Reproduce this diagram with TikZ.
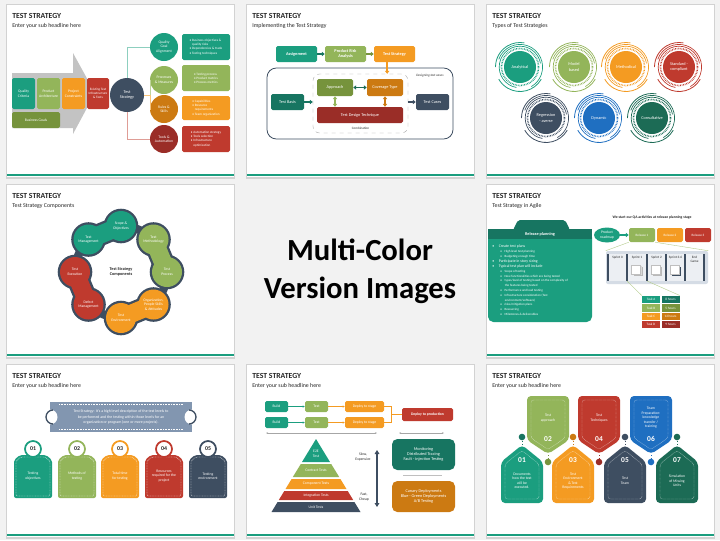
\documentclass[tikz,border=0pt]{standalone}
\usepackage{fontspec}
\setmainfont{Carlito}
\usetikzlibrary{arrows.meta,shapes.geometric}

\definecolor{cbg}{HTML}{F2F2F2}
\definecolor{cshadow}{HTML}{D2D2D2}
\definecolor{cteal}{HTML}{1B9E7F}
\definecolor{cdkteal}{HTML}{177561}
\definecolor{cgreen}{HTML}{93B55A}
\definecolor{colive}{HTML}{76933C}
\definecolor{corange}{HTML}{F49B22}
\definecolor{cbrown}{HTML}{CC7A12}
\definecolor{cred}{HTML}{BF3A2E}
\definecolor{cdkred}{HTML}{9A2D27}
\definecolor{cslate}{HTML}{3E4E61}
\definecolor{cblue}{HTML}{1F6FC1}
\definecolor{cdkgreen}{HTML}{1C6B55}
\definecolor{cgrayblue}{HTML}{8296B0}
\definecolor{carrow}{HTML}{C3C3C3}
\definecolor{cpanel}{HTML}{D5DCE5}
\definecolor{ctext}{HTML}{262626}

\newcommand\tsA{\fontsize{2.5}{3.1}\selectfont}
\newcommand\tsB{\fontsize{2.8}{3.4}\selectfont}
\newcommand\tsC{\fontsize{3.2}{3.9}\selectfont}
\newcommand\tsD{\fontsize{4.4}{5.2}\selectfont}
\newcommand\tsE{\fontsize{5.6}{6.4}\selectfont}
\newcommand\tsTitle{\fontsize{5.8}{7}\selectfont\bfseries}
\newcommand\tsSub{\fontsize{4.4}{5.2}\selectfont}
\newcommand\tsBig{\fontsize{23}{28.5}\selectfont\bfseries}

\begin{document}
\begin{tikzpicture}[x=0.75pt,y=0.75pt,yscale=-1,xscale=1,
  wh/.style 2 args={minimum width=#1*0.75pt,minimum height=#2*0.75pt},
  rr/.style={minimum size=#1*1.5pt},
  tbox/.style={rectangle,rounded corners=1.2pt,inner sep=0pt,align=center,text=white,font=\tsB},
  circ/.style={circle,inner sep=0pt,align=center,text=white,font=\tsB},
  bl/.style={rectangle,rounded corners=1.2pt,inner sep=0pt,align=left,text=white,font=\tsA},
  ttl/.style={anchor=base west,inner sep=0pt,text=ctext,font=\tsTitle},
  subt/.style={anchor=base west,inner sep=0pt,text=ctext,font=\tsSub},
  conn/.style={line width=0.3pt},
  barrow/.style={line width=1.1pt,-{Triangle[length=2.2pt,width=3.2pt]}},
  dbarrow/.style={line width=1.1pt,{Triangle[length=2.2pt,width=3.2pt]}-{Triangle[length=2.2pt,width=3.2pt]}},
  thinarr/.style={line width=0.3pt,-{Stealth[length=1.5pt,width=1.5pt]}},
  dim/.style={gray!70,line width=0.25pt,{Stealth[length=1.5pt]}-{Stealth[length=1.5pt]}},
  dark/.style={text=ctext,align=center,inner sep=0pt}]
\useasboundingbox (0,0) rectangle (720,540);
\fill[cbg] (0,0) rectangle (720,540);

% slide frames
\foreach \cx/\cy/\subtxt in {0/0/Enter your sub headline here,240/0/Implementing the Test Strategy,480/0/Types of Test Strategies,0/180/Test Strategy Components,480/180/Test Strategy in Agile,0/360/Enter your sub headline here,240/360/Enter your sub headline here,480/360/Enter your sub headline here}{
  \begin{scope}[shift={(\cx,\cy)}]
    \fill[cshadow] (5.5,3.5) rectangle (235,178.5);
    \fill[white] (7,5) rectangle (233.5,177);
    \fill[cteal] (7,174) rectangle (233.5,176);
    \node[ttl] (ttl-\cx-\cy) at (12,18.5) {TEST STRATEGY};
    \node[subt] (sub-\cx-\cy) at (12,27.5) {\subtxt};
  \end{scope}
}

% slide 1
\begin{scope}[shift={(0,0)}]
\fill[carrow] (12,73) -- (73,73) -- (73,53) -- (95,93) -- (73,134) -- (73,128) -- (12,128) -- cycle;
\node[tbox,fill=cteal,wh={23}{31}] (qc) at (23.5,93.5) {Quality\\Criteria};
\node[tbox,fill=cgreen,wh={23}{31}] (pa) at (48.5,93.5) {Product\\Architecture};
\node[tbox,fill=corange,wh={23}{31}] (pc) at (73.5,93.5) {Project\\Constraints};
\node[tbox,fill=cred,wh={22}{31},font=\tsA] (ei) at (98,93.5) {Existing Test\\Infrastructure\\\& Tests};
\node[tbox,fill=colive,wh={48}{16}] (bg) at (36,120) {Business Goals};
\node[circ,fill=cslate,rr=17,font=\tsC] (ts) at (127,95) {Test\\Strategy};
\node[circ,fill=cteal,rr=14] (qg) at (164,47) {Quality\\Goal\\Alignment};
\node[circ,fill=cgreen,rr=14] (pm) at (164,80) {Processes\\\& Measures};
\node[circ,fill=cbrown,rr=14] (rs) at (164,109) {Rules \&\\Skills};
\node[circ,fill=cdkred,rr=14] (ta) at (164,139) {Tools \&\\Automation};
\draw[conn,cteal!50] (ts.north) |- (qg.west);
\draw[conn,cgreen!60] (ts.east) -- ++(6,0) |- (pm.west);
\draw[conn,corange!60] (ts.east) -- ++(6,0) |- (rs.west);
\draw[conn,cred!50] (ts.south) |- (ta.west);
\node[bl,fill=cteal,wh={48}{26}] (qgt) at (206,47) {\textbullet~Business objectives \&\\\phantom{\textbullet~}quality risks\\\textbullet~Dependencies \& trade\\\textbullet~Testing techniques};
\node[bl,fill=cgreen,wh={48}{26}] (pmt) at (206,78) {\textbullet~Testing process\\\textbullet~Product metrics\\\textbullet~Process metrics};
\node[bl,fill=corange,wh={48}{24}] (rst) at (206,108) {\textbullet~Capabilities\\\textbullet~Resource\\\phantom{\textbullet~}requirements\\\textbullet~Team organization};
\node[bl,fill=cred,wh={48}{26}] (tat) at (206,139) {\textbullet~Automation strategy\\\textbullet~Tools selection\\\textbullet~Infrastructure\\\phantom{\textbullet~}optimization};
\end{scope}

% slide 2
\begin{scope}[shift={(240,0)}]
\node[tbox,fill=cteal,wh={41}{16},font=\tsC\bfseries] (asg) at (56.5,54) {Assignment};
\node[tbox,fill=cgreen,wh={41}{16},font=\tsC\bfseries] (risk) at (105.5,54) {Product Risk\\Analysis};
\node[tbox,fill=corange,wh={41}{16},font=\tsC\bfseries] (strat) at (154.5,54) {Test Strategy};
\node[draw=cslate,line width=0.6pt,rounded corners=7pt,wh={186}{71},inner sep=0pt] (outer) at (120,103.5) {};
\node[draw=gray!70,dashed,line width=0.3pt,rounded corners=5pt,wh={95}{59},inner sep=0pt] (inner) at (120.5,103.5) {};
\node[dark,font=\tsA\itshape] (dtc) at (190,75.5) {Designing test cases};
\node[dark,font=\tsA] (comb) at (120.5,128.5) {Combination};
\node[tbox,fill=colive,wh={36}{17},font=\tsC] (appr) at (95,87.5) {Approach};
\node[tbox,fill=cbrown,wh={36}{17},font=\tsC] (cov) at (145,87.5) {Coverage Type};
\node[tbox,fill=cdkred,wh={86}{16},font=\tsC] (tdt) at (120,115) {Test Design Technique};
\node[tbox,fill=cdkteal,wh={33}{16},font=\tsC] (basis) at (47.5,102) {Test Basis};
\node[tbox,fill=cslate,wh={33}{16},font=\tsC] (cases) at (192.5,102) {Test Cases};
\draw[barrow,cdkteal] (asg) -- (risk);
\draw[barrow,colive] (risk) -- (strat);
\draw[barrow,corange] ([xshift=-5.5pt]strat.south) -- ([xshift=-5.5pt]strat.south |- inner.north);
\draw[dbarrow,cdkgreen] (appr) -- (cov);
\draw[dbarrow,cgreen] (appr) -- (appr |- tdt.north);
\draw[dbarrow,cbrown] (cov) -- (cov |- tdt.north);
\draw[barrow,cdkteal] (basis) -- (basis -| inner.west);
\draw[barrow,cslate] (cases -| inner.east) -- (cases);
\end{scope}

% slide 3
\begin{scope}[shift={(480,0)}]
\foreach \x/\y/\c/\n/\t in {40/67/cteal/an/Analytical,94/67/cgreen/mb/{Model\\based},146/67/corange/me/Methodical,199/67/cred/sc/{Standard -\\compliant},66/118/cslate/ra/{Regression\\- averse},119/118/cblue/dy/Dynamic,172/118/cdkgreen/co/Consultative}{
  \draw[\c,line width=1.2pt,dash pattern=on 0.5pt off 0.7pt] (\x,\y) circle (18.5);
  \draw[\c,line width=0.5pt] (\x,\y) ++(100:20.8) arc[start angle=100,end angle=350,radius=20.8];
  \draw[\c,line width=0.5pt] (\x,\y) ++(200:22.6) arc[start angle=200,end angle=420,radius=22.6];
  \draw[\c,line width=0.6pt] (\x,\y) ++(30:24.5) arc[start angle=30,end angle=150,radius=24.5];
  \draw[\c,line width=0.6pt] (\x,\y) ++(180:24.5) arc[start angle=180,end angle=280,radius=24.5];
  \node[circ,fill=\c,rr=16,font=\tsC] (ty-\n) at (\x,\y) {\t};
}
\end{scope}

% slide 4
\begin{scope}[shift={(0,180)}]
\coordinate (so) at (121,46);
\coordinate (tm) at (153.5,59.5);
\coordinate (tp) at (167,92);
\coordinate (op) at (153.5,124.5);
\coordinate (te) at (121,138);
\coordinate (dm) at (88.5,124.5);
\coordinate (tx) at (75,92);
\coordinate (mg) at (88.5,59.5);
\draw[cslate,line width=6pt] (121,92) circle (46);
\foreach \p in {so,tm,tp,op,te,dm,tx,mg}
  \fill[cslate] (\p) circle (17.3);
\foreach \p/\q in {so/mg,tm/tp,op/te,dm/tx}
  \draw[cslate,line width=17pt] (\p) -- (\q);
\foreach \p/\q/\c in {so/mg/cteal,tm/tp/cgreen,op/te/corange,dm/tx/cred}
  \draw[\c,line width=13.5pt] (\p) -- (\q);
\foreach \p/\c/\t in {so/cteal/{Scope \&\\Objectives},tm/cgreen/{Test\\Methodology},tp/cgreen/{Test\\Process},op/corange/{Organization,\\People Skills\\\& Attitudes},te/corange/{Test\\Environment},dm/cred/{Defect\\Management},tx/cred/{Test\\Execution},mg/cteal/{Test\\Management}}
  \node[circ,fill=\c,rr=15] (cp-\p) at (\p) {\t};
\node[dark,font=\tsC\bfseries] (tsc) at (121,92) {Test Strategy\\Components};
\end{scope}

% slide 5
\begin{scope}[shift={(480,180)}]
\fill[cdkteal,rounded corners=1.5pt] (33,50) -- (38,40) -- (85,40) -- (90,50) -- cycle;
\fill[cteal,rounded corners=4pt] (8,52) -- (8,142) -- (112,142) -- (112,52) -- cycle;
\fill[cdkteal] (8,49) rectangle (112,59);
\node[font=\tsC\bfseries,text=white] (rp) at (60,54) {Release planning};
\node[anchor=north west,align=left,text=white,inner sep=0pt,font=\fontsize{2.4}{3.6}\selectfont] (rpl) at (12,64.5) {%
{\fontsize{2.9}{3.6}\selectfont\textbullet\hspace{3.5pt}Create test plans}\\
\hspace*{6pt}o\hspace{2pt}High level test planning\\
\hspace*{6pt}o\hspace{2pt}Budgeting enough time\\[0.6pt]
{\fontsize{2.9}{3.6}\selectfont\textbullet\hspace{3.5pt}Participate in story sizing}\\
{\fontsize{2.9}{3.6}\selectfont\textbullet\hspace{3.5pt}Typical test plan will include}\\
\hspace*{6pt}o\hspace{2pt}Scope of testing\\
\hspace*{6pt}o\hspace{2pt}New functionalities which are being tested\\
\hspace*{6pt}o\hspace{2pt}types/level of testing based on the complexity of\\
\hspace*{9.5pt}the features being tested\\
\hspace*{6pt}o\hspace{2pt}Performance and load testing\\
\hspace*{6pt}o\hspace{2pt}Infrastructure consideration (Test\\
\hspace*{9.5pt}environment/software)\\
\hspace*{6pt}o\hspace{2pt}risks/mitigation plans\\
\hspace*{6pt}o\hspace{2pt}Resourcing\\
\hspace*{6pt}o\hspace{2pt}Milestones \& deliverables};
\node[dark,font=\fontsize{2.8}{3.4}\selectfont\bfseries] (qa) at (172,37) {We start our QA activities at release planning stage};
\node[ellipse,fill=cteal,wh={26}{15},inner sep=0pt,align=center,text=white,font=\tsB] (road) at (127,55) {Product\\roadmap};
\node[tbox,fill=cgreen,wh={26}{14},font=\tsA] (rel1) at (162,55) {Release 1};
\node[tbox,fill=corange,wh={26}{14},font=\tsA] (rel2) at (190,55) {Release 2};
\node[tbox,fill=cred,wh={26}{14},font=\tsA] (rel3) at (218,55) {Release 3};
\draw[barrow,cteal] (road) -- (rel1);
\node[fill=cpanel,rounded corners=1.5pt,wh={102}{33},inner sep=0pt] (sp) at (177,87.5) {};
\draw[conn,cgreen!70] (rel1.south west) -- (sp.north west);
\draw[conn,cgreen!70] (rel1.south east) -- (sp.north east);
\foreach \a/\b in {128/147,147/167,167/186,186/205,205/224}
  \fill[cpanel!45!white] (\a,74) rectangle (\b,101);
\foreach \a in {128,147,167,186,205,224}
  \fill[cslate] (\a-0.7,74) rectangle (\a+0.7,101);
\foreach \x/\n/\t in {137.5/s0/Sprint 0,157/s1/Sprint 1,176.5/s2/Sprint 2,195.5/s3/Sprint 3-6}
  \node[dark,font=\tsA] (sp-\n) at (\x,77.5) {\t};
\node[dark,font=\tsA] (sp-eg) at (214.5,79) {End\\Game};
\foreach \x/\k in {157/gray!55,176.5/gray!55,195.5/cslate}{
  \fill[\k] (\x-3.5,87) rectangle ++(9,9);
  \fill[gray!30] (\x-4.5,86) rectangle ++(9,9);
  \filldraw[fill=white,draw=gray!50,line width=0.2pt] (\x-5.5,85) rectangle ++(9,9);
}
\foreach \y/\a/\b/\t/\h in {119.5/cteal/cdkteal/A/8,128/cgreen/colive/B/5,136.5/corange/cbrown/C/12,144.5/cred/cdkred/D/9}{
  \node[tbox,fill=\a,wh={18}{7.5},font=\tsA,rounded corners=0pt] (tk\t) at (171,\y) {Task \t};
  \node[tbox,fill=\b,wh={18}{7.5},font=\tsA,rounded corners=0pt] (hr\t) at (190.5,\y) {\h{} hours};
}
\coordinate (s1l) at (147,101);
\coordinate (s1r) at (167,101);
\draw[conn,cgreen!70] (s1l) -- (tkA.north west);
\draw[conn,cgreen!70] (s1r) -- (hrA.north east);
\end{scope}

% slide 6
\begin{scope}[shift={(0,360)}]
\fill[cgrayblue] (50,42) rectangle (192,72);
\fill[white] (50,57) circle (7.5);
\fill[white] (192,57) circle (7.5);
\draw[white,line width=0.25pt,dash pattern=on 0.6pt off 0.6pt] (59,44.5) -- (183,44.5);
\draw[white,line width=0.25pt,dash pattern=on 0.6pt off 0.6pt] (59,69.5) -- (183,69.5);
\draw[cslate,line width=1pt] (53,57) ++(90:7) arc[start angle=90,end angle=270,radius=7];
\draw[cslate,line width=1pt] (189,57) ++(-90:7) arc[start angle=-90,end angle=90,radius=7];
\node[text=white,align=center,font=\fontsize{2.9}{4.1}\selectfont] (def) at (121,57) {Test Strategy: It's a high level description of the test levels to\\be performed and the testing within those levels for an\\organization or program (one or more projects).};
\foreach \x/\c/\n/\t in {33/cteal/01/{Testing\\objectives},77/cgreen/02/{Methods of\\testing},120/corange/03/{Total time\\for testing},164/cred/04/{Resources\\required for the\\project},208/cslate/05/{Testing\\environment}}{
  \fill[\c,rounded corners=1.5pt] (\x-19,100) -- (\x-13,95) -- (\x+13,95) -- (\x+19,100) -- (\x+19,138) -- (\x-19,138) -- cycle;
  \draw[white,line width=0.25pt,dash pattern=on 0.6pt off 0.6pt,rounded corners=1pt] (\x-17,101) -- (\x-12,97) -- (\x+12,97) -- (\x+17,101) -- (\x+17,136) -- (\x-17,136) -- cycle;
  \node[circle,draw=\c,line width=1.3pt,fill=white,rr=8,inner sep=0pt,text=ctext,font=\tsD\bfseries] (nm-\n) at (\x,89) {\n};
  \node[text=white,align=center,inner sep=0pt,font=\tsB] (tg-\n) at (\x,116) {\t};
}
\end{scope}

% slide 7
\begin{scope}[shift={(240,360)}]
\node[tbox,fill=cteal,wh={23}{11}] (b1) at (36.5,46.5) {Build};
\node[tbox,fill=cgreen,wh={23}{11}] (t1) at (76.5,46.5) {Test};
\node[tbox,fill=corange,wh={39}{11}] (d1) at (124.5,46.5) {Deploy to stage};
\node[tbox,fill=cteal,wh={23}{11}] (b2) at (36.5,62.5) {Build};
\node[tbox,fill=cgreen,wh={23}{11}] (t2) at (76.5,62.5) {Test};
\node[tbox,fill=corange,wh={39}{11}] (d2) at (124.5,62.5) {Deploy to stage};
\node[tbox,fill=cred,wh={51}{13},font=\tsB\bfseries] (prod) at (187.5,54.5) {Deploy to production};
\draw[thinarr,cteal] (b1) -- (t1);
\draw[thinarr,cteal] (b2) -- (t2);
\draw[thinarr,corange] (t1) -- (d1);
\draw[thinarr,corange] (t2) -- (d2);
\draw[conn,corange] (d1.east) -- ++(7,0) |- (prod.west);
\draw[conn,corange] (d2.east) -- ++(7,0) |- (prod.west);
\coordinate (ml) at (26,73);
\coordinate (mr) at (137,73);
\coordinate (nl) at (159,73);
\coordinate (nr) at (204,73);
\draw[dim] (ml) -- (mr);
\draw[dim] (nl) -- (nr);
\fill[cteal] (76,79) -- (90,102) -- (62,102) -- cycle;
\fill[cgreen] (60.8,104) -- (91.2,104) -- (99.2,117) -- (52.8,117) -- cycle;
\fill[corange] (51.6,119) -- (100.4,119) -- (106.5,129) -- (45.5,129) -- cycle;
\fill[cred] (44.3,131) -- (107.7,131) -- (113.2,140) -- (38.8,140) -- cycle;
\fill[cslate] (37.6,142) -- (114.4,142) -- (120.5,152) -- (31.5,152) -- cycle;
\node[text=white,align=center,inner sep=0pt,font=\tsB] (e2e) at (76,94) {E2E\\Test};
\node[text=white,inner sep=0pt,font=\tsB] (ctr) at (76,110.5) {Contract Tests};
\node[text=white,inner sep=0pt,font=\tsB] (cmp) at (76,124) {Component Tests};
\node[text=white,inner sep=0pt,font=\tsB] (itg) at (76,135.5) {Integration Tests};
\node[text=white,inner sep=0pt,font=\tsB] (unt) at (76,147) {Unit Tests};
\coordinate (slow) at (137,90);
\coordinate (fast) at (137,147);
\draw[cslate,line width=1pt,{Triangle[length=3pt,width=3.5pt]}-{Triangle[length=3pt,width=3.5pt]}] (slow) -- (fast);
\node[dark,font=\tsB] (slw) at (123,97) {Slow,\\Expensive};
\node[dark,font=\tsB] (fst) at (124,137) {Fast,\\Cheap};
\node[tbox,fill=cdkteal,wh={63}{31},rounded corners=4pt,font=\tsC] (mon) at (183.5,94.5) {Monitoring\\Distributed Tracing\\Fault - injection Testing};
\coordinate (sl) at (163,115);
\coordinate (sr) at (202,115);
\draw[gray!50,line width=0.5pt] (sl) -- (sr);
\node[tbox,fill=cbrown,wh={63}{31},rounded corners=4pt,font=\tsC] (can) at (183.5,136.5) {Canary Deployments\\Blue - Green Deployments\\A/B Testing};
\end{scope}

% slide 8
\begin{scope}[shift={(480,360)}]
\foreach \x/\c/\d/\n/\t in {68/cgreen/colive/02/{Test\\approach},119/cred/cdkred/04/{Test\\Techniques},171/cblue/cblue/06/{Team\\Preparation:\\knowledge\\transfer /\\training}}{
  \fill[\c,rounded corners=3pt] (\x-21,80) -- (\x-21,36) -- (\x+21,36) -- (\x+21,80) -- (\x,94) -- cycle;
  \draw[white,opacity=0.6,line width=0.3pt,dash pattern=on 0.5pt off 0.5pt,rounded corners=2pt] (\x-17,78) -- (\x-17,40) -- (\x+17,40) -- (\x+17,78) -- (\x,89.5) -- cycle;
  \node[circle,fill=\d,rr=3.3,inner sep=0pt] (pin-\n) at (\x,102) {};
  \draw[\d,line width=0.4pt,dotted] (pin-\n) -- (\x,94);
  \node[text=white,inner sep=0pt,font=\tsE\bfseries] (num-\n) at (\x,79) {\n};
  \node[text=white,align=center,inner sep=0pt,font=\tsB] (txt-\n) at (\x,58) {\t};
}
\foreach \x/\c/\d/\n/\t in {42/cteal/cdkteal/01/{Documents\\how the test\\will be\\executed.},93/corange/cbrown/03/{Test\\Environment\\\& Test\\Requirements},145/cslate/cslate/05/{Test\\Team},197/cdkgreen/cdkgreen/07/{Simulation\\of Missing\\Units}}{
  \fill[\c,rounded corners=3pt] (\x,85) -- (\x+21,102) -- (\x+21,143) -- (\x-21,143) -- (\x-21,102) -- cycle;
  \draw[white,opacity=0.6,line width=0.3pt,dash pattern=on 0.5pt off 0.5pt,rounded corners=2pt] (\x,90.5) -- (\x+17,104) -- (\x+17,139) -- (\x-17,139) -- (\x-17,104) -- cycle;
  \node[circle,fill=\d,rr=3.3,inner sep=0pt] (pin-\n) at (\x,77) {};
  \draw[\d,line width=0.4pt,dotted] (pin-\n) -- (\x,85);
  \node[text=white,inner sep=0pt,font=\tsE\bfseries] (num-\n) at (\x,100) {\n};
  \node[text=white,align=center,inner sep=0pt,font=\tsB] (txt-\n) at (\x,121) {\t};
}
\end{scope}

% centre caption
\node[align=center,text=black,inner sep=0pt,font=\tsBig] (mc) at (360,271) {Multi-Color\\Version Images};
\end{tikzpicture}
\end{document}
